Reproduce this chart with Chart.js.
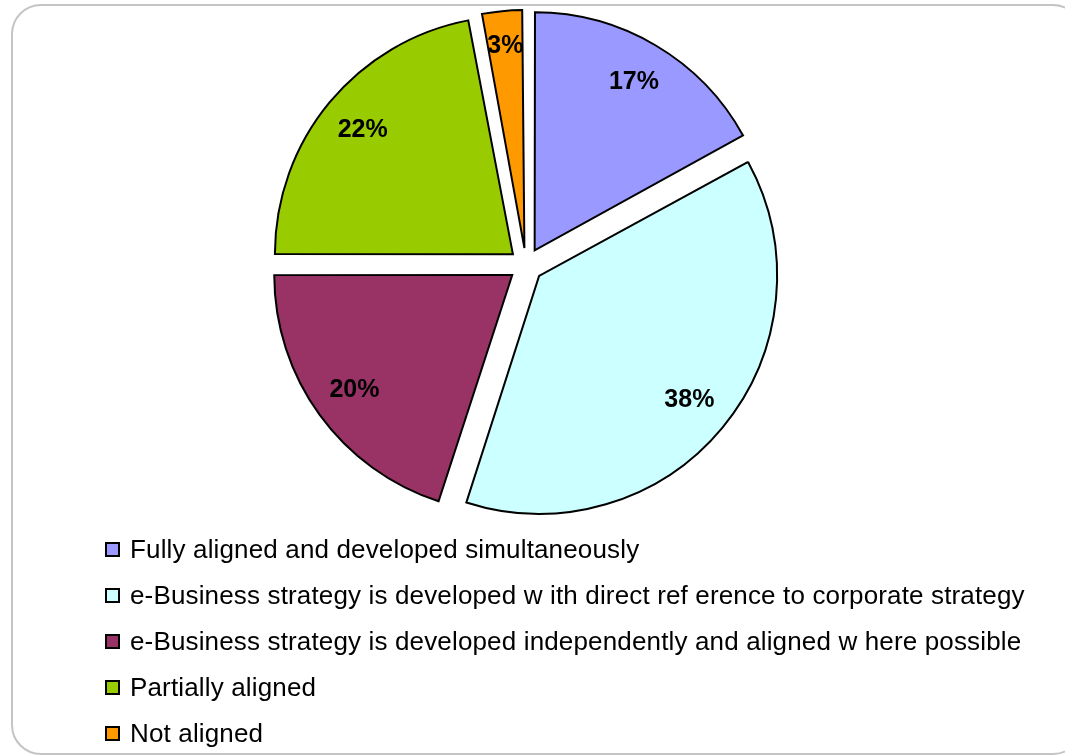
<!DOCTYPE html>
<html>
<head>
<meta charset="utf-8">
<script src="https://cdn.jsdelivr.net/npm/chart.js@4.4.1/dist/chart.umd.min.js"></script>
<style>
  html, body { margin: 0; overflow: hidden; background: #fff; }
  body { width: 1065px; height: 755px; position: relative; font-family: "Liberation Sans", Arial, sans-serif; }
  .frame {
    position: absolute; left: 11px; top: 4px;
    width: 1068px; height: 747px;
    border: 2.5px solid #c4c4c4; border-radius: 30px;
  }
  .pie-box { position: absolute; left: 0; top: 0; width: 1052px; height: 530px; }
  #legend { position: absolute; left: 105px; top: 526px; margin: 0; padding: 0; list-style: none; }
  #legend li { height: 46px; display: flex; align-items: center; font-size: 26px; letter-spacing: 0.15px; color: #000; white-space: pre; }
  #legend .box { width: 11px; height: 11px; border: 2px solid #000; margin-right: 10px; flex: none; }
</style>
</head>
<body>
<div class="frame"></div>
<div class="pie-box"><canvas id="pieChart"></canvas></div>
<ul id="legend"></ul>

<script>
// data
const categories = [
  'Fully aligned and developed simultaneously',
  'e-Business strategy is developed w ith direct ref erence to corporate strategy',
  'e-Business strategy is developed independently and aligned w here possible',
  'Partially aligned',
  'Not aligned'
];
const shares = [17, 38, 20, 22, 3];
const colours = ['#9999FF', '#CCFFFF', '#993366', '#99CC00', '#FF9900'];

// exploded slices: keep the radius equal for every slice, only push them outwards
const evenExplode = {
  id: 'evenExplode',
  afterDatasetUpdate(chart, args) {
    args.meta.data.forEach(arc => {
      const shift = (arc.options.offset || 0) / 4;
      const fix = 1 - Math.sin(Math.min(Math.PI, arc.circumference));
      arc.outerRadius -= shift * fix;
    });
  }
};

// percentage text inside each slice
const sliceLabels = {
  id: 'sliceLabels',
  afterDatasetsDraw(chart) {
    const ctx = chart.ctx;
    const meta = chart.getDatasetMeta(0);
    ctx.save();
    ctx.font = 'bold 25px "Liberation Sans", Arial, sans-serif';
    ctx.fillStyle = '#000';
    ctx.textAlign = 'center';
    ctx.textBaseline = 'middle';
    meta.data.forEach((arc, i) => {
      const p = arc.getProps(['x', 'y', 'startAngle', 'endAngle']);
      const mid = (p.startAngle + p.endAngle) / 2;
      // the thin slice keeps its label nearer the rim
      const dist = (shares[i] < 5 ? 203 : 195) + (arc.options.offset || 0) / 4;
      ctx.fillText(shares[i] + '%', p.x + Math.cos(mid) * dist, p.y + Math.sin(mid) * dist);
    });
    ctx.restore();
  }
};

const chart = new Chart(document.getElementById('pieChart'), {
  type: 'pie',
  data: {
    labels: categories,
    datasets: [{
      data: shares,
      backgroundColor: colours,
      borderColor: '#000',
      borderWidth: 2,
      borderJoinStyle: 'miter',
      offset: 68,
      hoverOffset: 0,
      radius: 238
    }]
  },
  options: {
    responsive: true,
    maintainAspectRatio: false,
    animation: false,
    layout: { padding: 0 },
    plugins: {
      legend: { display: false },
      tooltip: { enabled: false }
    }
  },
  plugins: [evenExplode, sliceLabels]
});

// legend list, one entry per line
const legendList = document.getElementById('legend');
chart.options.plugins.legend.labels.generateLabels(chart).forEach(item => {
  const li = document.createElement('li');
  const box = document.createElement('span');
  box.className = 'box';
  box.style.background = item.fillStyle;
  li.appendChild(box);
  li.appendChild(document.createTextNode(item.text));
  legendList.appendChild(li);
});
</script>
</body>
</html>
